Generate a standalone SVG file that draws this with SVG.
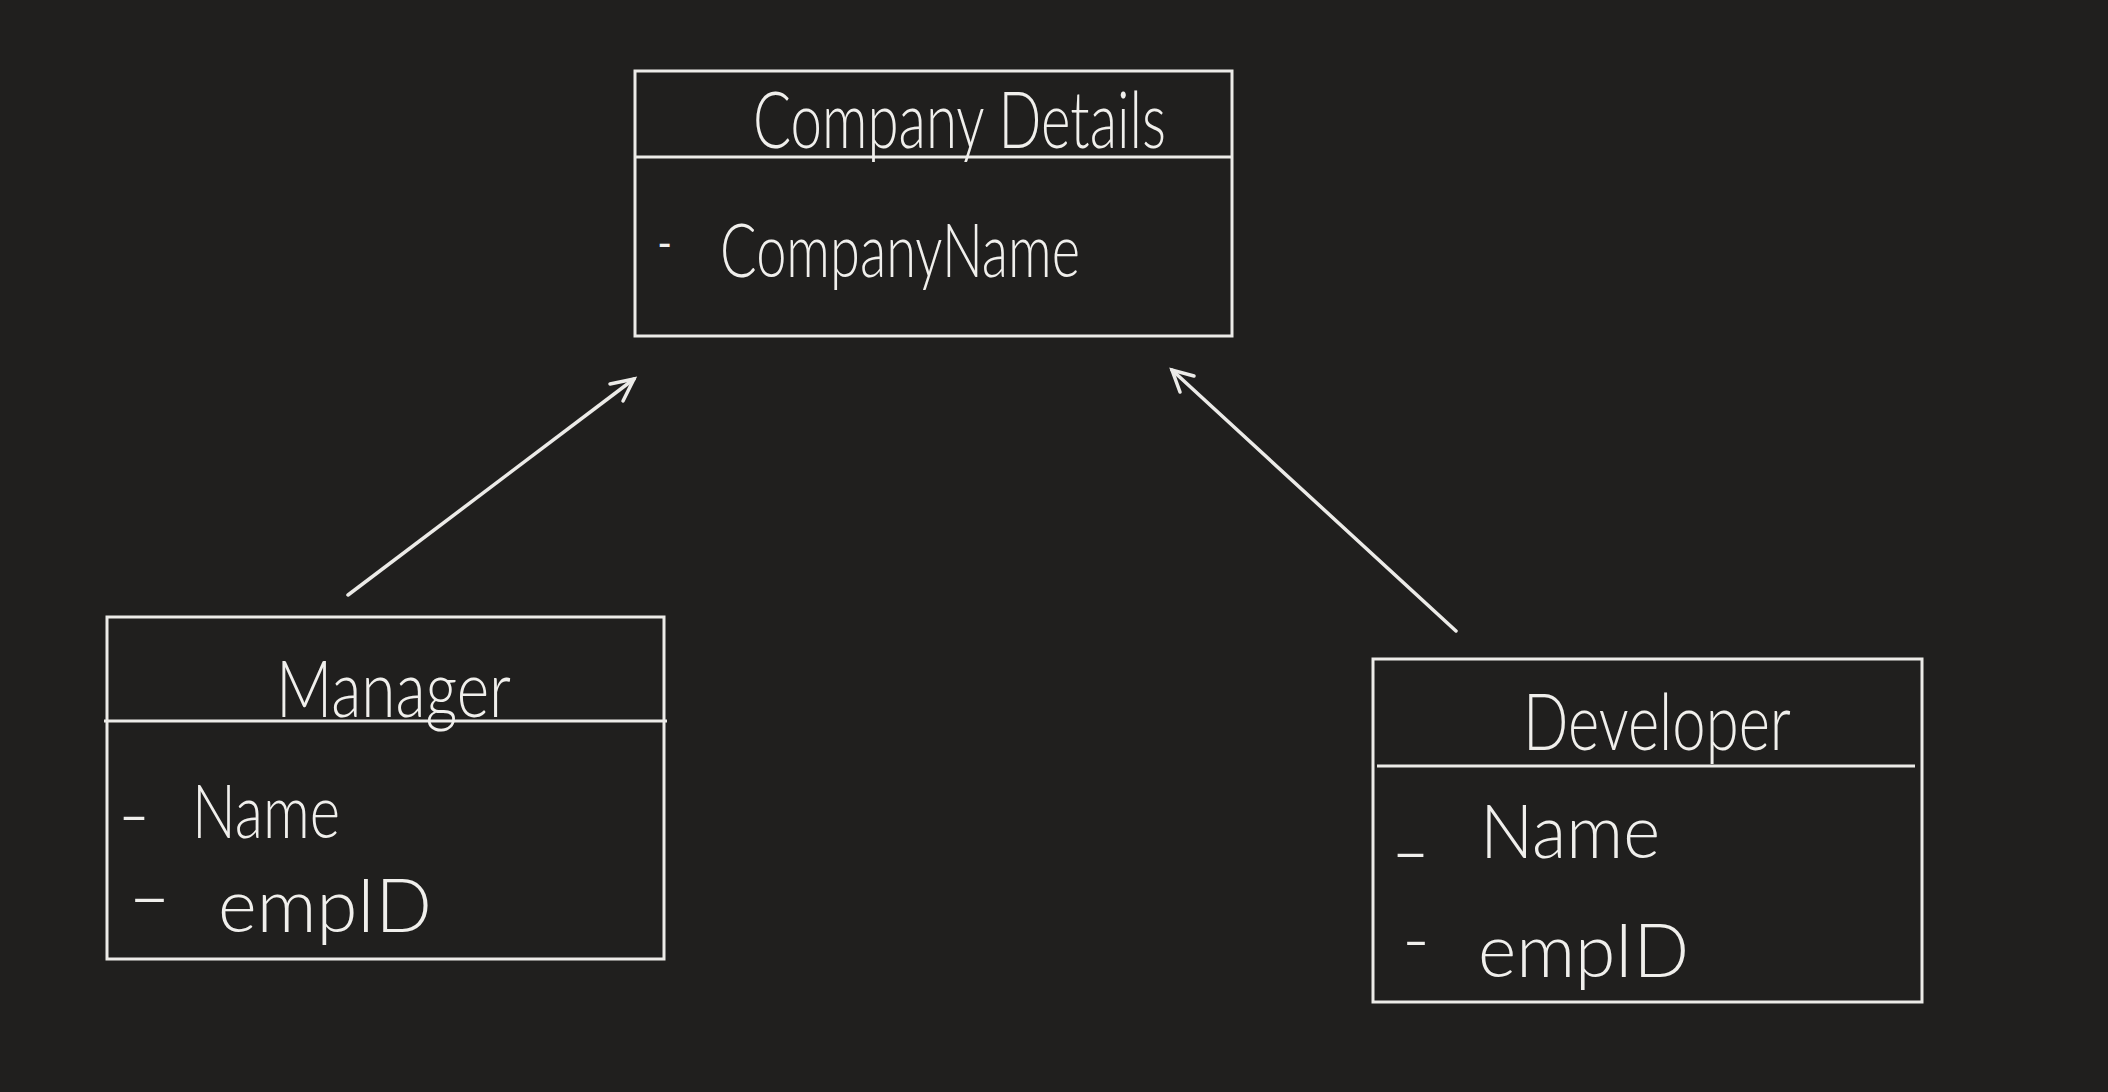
<svg xmlns="http://www.w3.org/2000/svg" width="2108" height="1092" viewBox="0 0 2108 1092">
<defs>
<style>
.bg{fill:#201f1e}
.box{fill:none;stroke:#ecebe8;stroke-width:3}
.div{stroke:#ecebe8;stroke-width:3}
.conn{stroke:#ecebe8;stroke-width:3.5;stroke-linecap:round;fill:none}
.t{font-family:Lato,"Open Sans","Liberation Sans",sans-serif;font-weight:300;fill:#f0efec}
.title{font-size:78px}
.attr{font-size:74px}
.dash{font-family:"Liberation Sans",sans-serif;font-size:40px;fill:#f0efec}
</style>
</defs>
<rect class="bg" x="0" y="0" width="2108" height="1092"/>
<g id="connectors">
<line class="conn" x1="348" y1="595" x2="634" y2="379"/>
<polyline class="conn" points="610,384 634,379 623,401"/>
<line class="conn" x1="1456" y1="631" x2="1172" y2="370"/>
<polyline class="conn" points="1194,376 1172,370 1180,392"/>
</g>
<g id="company-details">
<rect class="box" x="635" y="71" width="597" height="265"/>
<line class="div" x1="635" y1="157" x2="1232" y2="157"/>
<text class="t title" x="753" y="148" textLength="413" lengthAdjust="spacingAndGlyphs">Company Details</text>
<text class="dash" x="658" y="256">-</text>
<text class="t attr" x="720" y="277" textLength="360" lengthAdjust="spacingAndGlyphs">CompanyName</text>
</g>
<g id="manager">
<rect class="box" x="107" y="617" width="557" height="342"/>
<line class="div" x1="104" y1="721" x2="667" y2="721"/>
<text class="t title" x="276" y="717" textLength="235" lengthAdjust="spacingAndGlyphs">Manager</text>
<text class="dash" x="120" y="829" textLength="28" lengthAdjust="spacingAndGlyphs">-</text>
<text class="t attr" x="192" y="838" textLength="148" lengthAdjust="spacingAndGlyphs">Name</text>
<text class="dash" x="130" y="911" textLength="39" lengthAdjust="spacingAndGlyphs">-</text>
<text class="t attr" x="218" y="932" textLength="214" lengthAdjust="spacingAndGlyphs">empID</text>
</g>
<g id="developer">
<rect class="box" x="1373" y="659" width="549" height="343"/>
<line class="div" x1="1377" y1="766" x2="1915" y2="766"/>
<text class="t title" x="1523" y="750" textLength="268" lengthAdjust="spacingAndGlyphs">Developer</text>
<text class="dash" x="1393" y="866" textLength="35" lengthAdjust="spacingAndGlyphs">-</text>
<text class="t attr" x="1480" y="858" textLength="180" lengthAdjust="spacingAndGlyphs">Name</text>
<text class="dash" x="1404" y="954" textLength="24" lengthAdjust="spacingAndGlyphs">-</text>
<text class="t attr" x="1478" y="977" textLength="211" lengthAdjust="spacingAndGlyphs">empID</text>
</g>
</svg>
